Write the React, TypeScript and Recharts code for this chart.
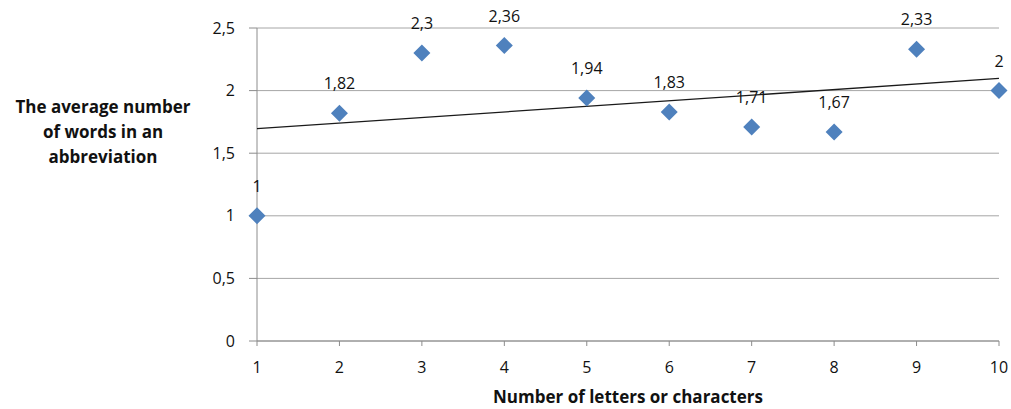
import React from 'react';
import { ScatterChart, Scatter, XAxis, YAxis, CartesianGrid } from 'recharts';

document.body.style.margin = '0';

// Number of letters or characters
const letters = [1, 2, 3, 4, 5, 6, 7, 8, 9, 10];
// Average number of words per abbreviation
const avgWords = [1, 1.82, 2.3, 2.36, 1.94, 1.83, 1.71, 1.67, 2.33, 2];
// Linear trendline end points
const trendX = [1, 10];
const trendY = [1.696, 2.097];

const xTicks = [1, 2, 3, 4, 5, 6, 7, 8, 9, 10];
const yTicks = [0, 0.5, 1, 1.5, 2, 2.5];

const points = letters.map((x, i) => ({ x, y: avgWords[i] }));
const trend = trendX.map((x, i) => ({ x, y: trendY[i] }));

const FONT = '"Open Sans", sans-serif';
const comma = (v: number) => String(v).replace('.', ',');

const Diamond = (props: any) => {
  const { cx, cy, payload } = props;
  const r = 8.5;
  return (
    <g>
      <polygon
        points={`${cx},${cy - r} ${cx + r},${cy} ${cx},${cy + r} ${cx - r},${cy}`}
        fill="#4f81bd"
      />
      <text x={cx} y={cy - 24} textAnchor="middle" fontSize={16} fill="#111" fontFamily={FONT}>
        {comma(payload.y)}
      </text>
    </g>
  );
};

const YTitle = () => (
  <text textAnchor="middle" fontSize={17} fontWeight="bold" fill="#111" fontFamily={FONT}>
    <tspan x={103} y={113}>The average number</tspan>
    <tspan x={103} y={138}>of words in an</tspan>
    <tspan x={103} y={163}>abbreviation</tspan>
  </text>
);

const XTitle = () => (
  <text x={628} y={403} textAnchor="middle" fontSize={17} fontWeight="bold" fill="#111" fontFamily={FONT}>
    Number of letters or characters
  </text>
);

const App = () => {
  return (
    <div style={{ fontFamily: FONT }}>
      <ScatterChart width={1011} height={409} margin={{ top: 28, right: 12, bottom: 0, left: 197 }}>
        <CartesianGrid horizontal vertical={false} stroke="#a6a6a6" />
        <XAxis
          type="number"
          dataKey="x"
          domain={[1, 10]}
          ticks={xTicks}
          height={68}
          stroke="#8c8c8c"
          tickSize={5}
          tickMargin={16}
          tick={{ fill: '#111', fontSize: 16, fontFamily: FONT }}
          label={{ content: () => <XTitle /> }}
        />
        <YAxis
          type="number"
          dataKey="y"
          domain={[0, 2.5]}
          ticks={yTicks}
          width={60}
          stroke="#8c8c8c"
          tickSize={8}
          tickMargin={14}
          tickFormatter={comma}
          tick={{ fill: '#111', fontSize: 16, fontFamily: FONT }}
          label={{ content: () => <YTitle /> }}
        />
        <Scatter
          data={trend}
          line={{ stroke: '#1a1a1a', strokeWidth: 1.3 }}
          shape={() => null}
          isAnimationActive={false}
        />
        <Scatter data={points} shape={<Diamond />} isAnimationActive={false} />
      </ScatterChart>
    </div>
  );
};

export default App;
